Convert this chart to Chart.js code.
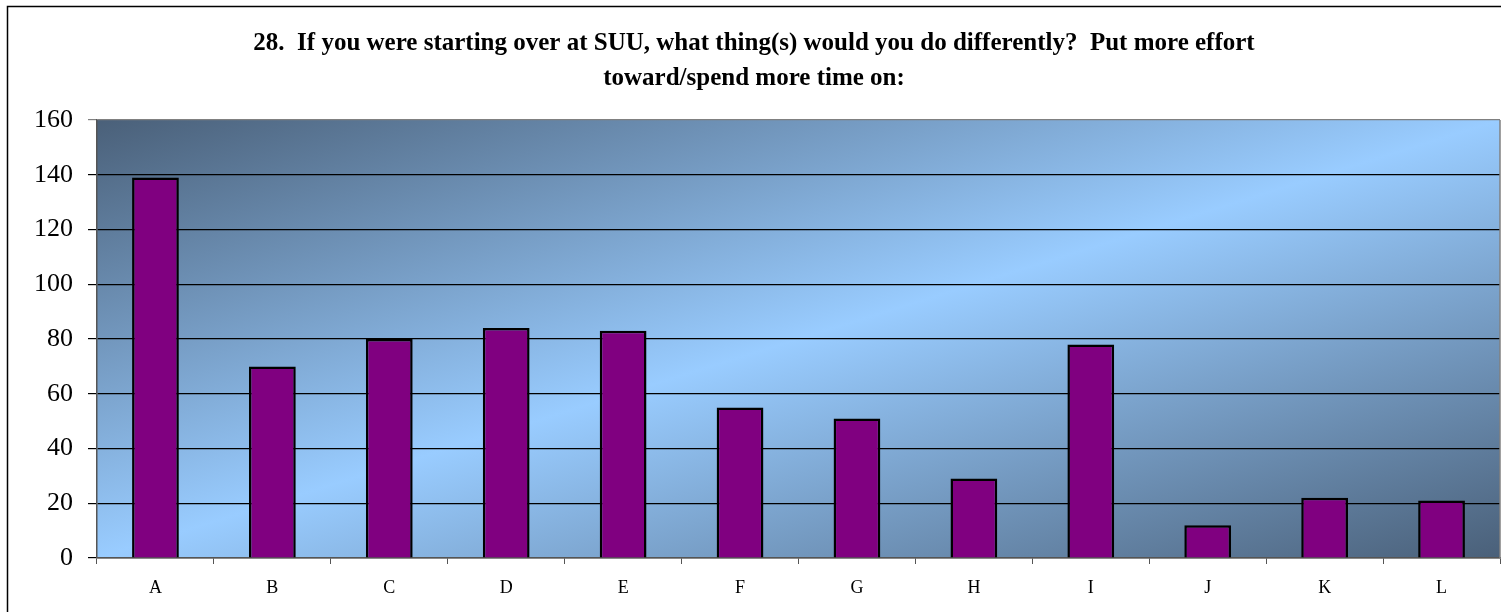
<!DOCTYPE html>
<html>
<head>
<meta charset="utf-8">
<script src="https://cdn.jsdelivr.net/npm/chart.js@4/dist/chart.umd.min.js"></script>
<style>
html,body{margin:0;padding:0;background:#fff;}
#wrap{width:1501px;height:612px;position:relative;}
</style>
</head>
<body>
<div id="wrap"><canvas id="c" width="1501" height="612"></canvas></div>
<script>
const categories = ["A","B","C","D","E","F","G","H","I","J","K","L"];
const counts = [139,70,80,84,83,55,51,29,78,12,22,21];
const yTicks = [0,20,40,60,80,100,120,140,160];
const titleLines = ["28.  If you were starting over at SUU, what thing(s) would you do differently?  Put more effort", "toward/spend more time on:"];

const serif = "'Liberation Serif', 'Times New Roman', serif";

const bgPlugin = {
  id: 'bg',
  beforeDraw(chart) {
    const {ctx, chartArea: a} = chart;
    ctx.save();
    ctx.fillStyle = '#fff';
    ctx.fillRect(0, 0, chart.width, chart.height);
    // outer frame
    ctx.strokeStyle = '#000';
    ctx.lineWidth = 1.5;
    ctx.strokeRect(7.5, 6.5, 1700, 800);
    // plot area gradient (diagonal)
    ctx.translate(a.left, a.top);
    ctx.scale(a.right - a.left, a.bottom - a.top);
    const g = ctx.createLinearGradient(0, 0, 1, 1);
    g.addColorStop(0, '#4a6079');
    g.addColorStop(0.5, '#99ccff');
    g.addColorStop(1, '#4a6079');
    ctx.fillStyle = g;
    ctx.fillRect(0, 0, 1, 1);
    ctx.restore();
  },
  afterDatasetsDraw(chart) {
    const {ctx, chartArea: a} = chart;
    ctx.save();
    ctx.strokeStyle = '#808080';
    ctx.lineWidth = 1.5;
    ctx.beginPath();
    ctx.moveTo(a.right, a.top);
    ctx.lineTo(a.right, a.bottom);
    ctx.stroke();
    ctx.restore();
  }
};

new Chart(document.getElementById('c'), {
  type: 'bar',
  data: {
    labels: categories,
    datasets: [{
      data: counts,
      backgroundColor: '#800080',
      borderColor: '#000000',
      borderWidth: 2.5,
      barPercentage: 0.4,
      categoryPercentage: 1.0
    }]
  },
  options: {
    responsive: false,
    animation: false,
    devicePixelRatio: 1,
    layout: { padding: { left: 8, top: 6, right: 1, bottom: 0 } },
    plugins: {
      legend: { display: false },
      tooltip: { enabled: false },
      title: {
        display: true,
        text: titleLines,
        color: '#000',
        font: { family: serif, size: 25, weight: 'bold', lineHeight: 1.4 },
        padding: { top: 20.5, bottom: 23.5 }
      }
    },
    scales: {
      x: {
        grid: { display: true, drawOnChartArea: false, offset: true, tickLength: 6, color: '#555', lineWidth: 1 },
        border: { display: true, color: '#555', width: 1.5 },
        ticks: { color: '#000', font: { family: serif, size: 18 }, padding: 13, maxRotation: 0 },
        afterFit(s) { s.height = 54; }
      },
      y: {
        min: 0, max: 160,
        afterBuildTicks(s) { s.ticks = yTicks.map(v => ({value: v})); },
        grid: {
          color: (c) => (c.tick && c.tick.value === 160) ? '#808080' : '#000',
          lineWidth: 1.2,
          tickLength: 9
        },
        border: { display: true, color: '#555', width: 1.5 },
        ticks: { color: '#000', font: { family: serif, size: 26 }, padding: 15 },
        afterFit(s) { s.width = 89; }
      }
    }
  },
  plugins: [bgPlugin]
});
</script>
</body>
</html>
